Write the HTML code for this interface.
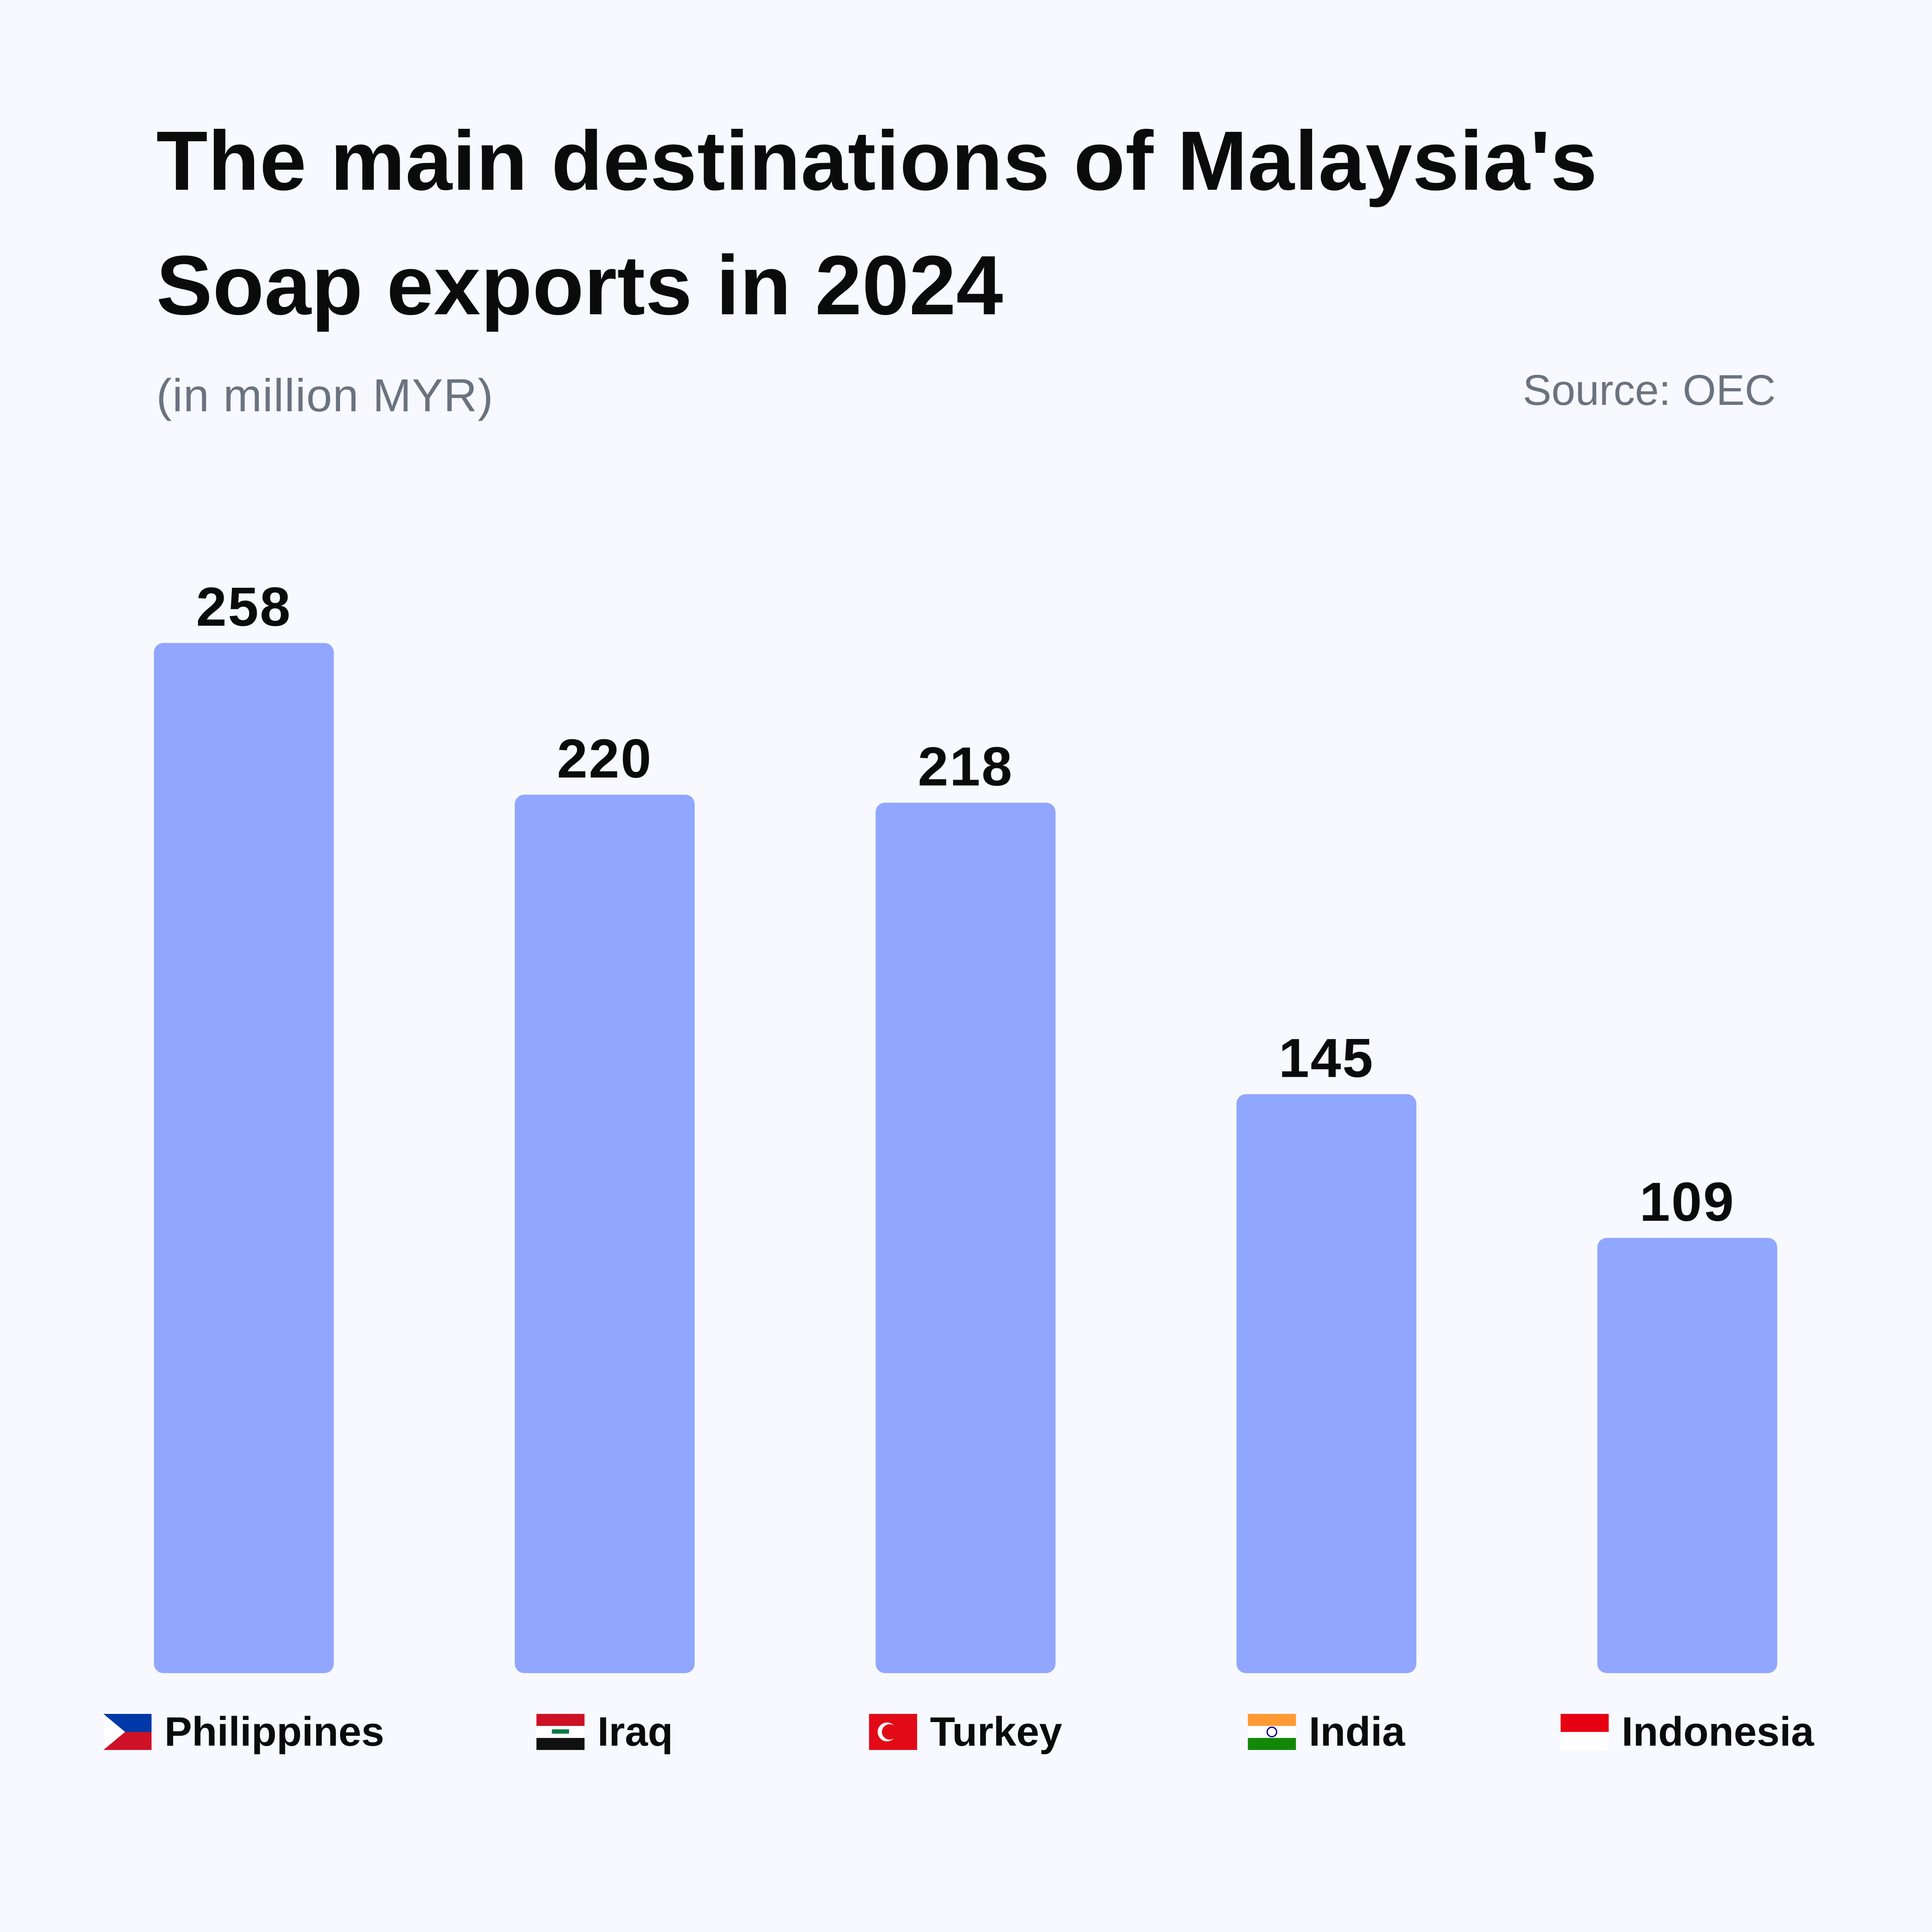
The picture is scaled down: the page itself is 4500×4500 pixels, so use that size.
<!DOCTYPE html>
<html><head><meta charset="utf-8">
<style>
html,body{margin:0;padding:0;}
body{width:4500px;height:4500px;background:#f7f9fe;font-family:"Liberation Sans",sans-serif;position:relative;overflow:hidden;}
.t{position:absolute;left:364px;font-weight:bold;font-size:196px;color:#0b0b0b;letter-spacing:0.6px;white-space:nowrap;}
</style></head>
<body>
<div class="t" style="top:262px;">The main destinations of Malaysia's</div>
<div class="t" style="top:552px;">Soap exports in 2024</div>
<div style="position:absolute;left:364px;top:858px;font-size:108px;letter-spacing:1.5px;color:#6b7280;">(in million MYR)</div>
<div style="position:absolute;right:364px;top:852px;font-size:100px;color:#6b7280;">Source: OEC</div>
<svg id="chart" width="4500" height="4500" style="position:absolute;left:0;top:0;"></svg>
<script>
const categories=["Philippines","Iraq","Turkey","India","Indonesia"];
const values=[258,220,218,145,109];
const labels=["258","220","218","145","109"];
const svg=document.getElementById('chart');
const NS="http://www.w3.org/2000/svg";
const baseY=3897, unit=9.3, bw=419, x0=568, step=840.5;
function xC(i){return x0+i*step;}
function yV(v){return baseY-v*unit;}
function flag(i,x,y){
  const g=document.createElementNS(NS,'g');
  
  
  const w=112,h=84;
  const r=(a,b,c,d,f)=>{const e=document.createElementNS(NS,'rect');e.setAttribute('x',a);e.setAttribute('y',b);e.setAttribute('width',c);e.setAttribute('height',d);e.setAttribute('fill',f);g.appendChild(e);};
  const n=categories[i];
  if(n==="Philippines"){r(x,y,w,h/2,"#0038a8");r(x,y+h/2,w,h/2,"#ce1126");const p=document.createElementNS(NS,'polygon');p.setAttribute('points',`${x},${y} ${x+w*0.45},${y+h/2} ${x},${y+h}`);p.setAttribute('fill','#fff');g.appendChild(p);}
  else if(n==="Iraq"){r(x,y,w,h/3,"#ce1126");r(x,y+h/3,w,h/3,"#fff");r(x,y+2*h/3,w,h/3,"#111");r(x+36,y+36,40,10,"#007a3d");}
  else if(n==="Turkey"){r(x,y,w,h,"#e30a17");const c=document.createElementNS(NS,'circle');c.setAttribute('cx',x+42);c.setAttribute('cy',y+h/2);c.setAttribute('r',22);c.setAttribute('fill','#fff');g.appendChild(c);const c2=document.createElementNS(NS,'circle');c2.setAttribute('cx',x+48);c2.setAttribute('cy',y+h/2);c2.setAttribute('r',18);c2.setAttribute('fill','#e30a17');g.appendChild(c2);}
  else if(n==="India"){r(x,y,w,h/3,"#ff9933");r(x,y+h/3,w,h/3,"#fff");r(x,y+2*h/3,w,h/3,"#138808");const c=document.createElementNS(NS,'circle');c.setAttribute('cx',x+w/2);c.setAttribute('cy',y+h/2);c.setAttribute('r',11);c.setAttribute('fill','none');c.setAttribute('stroke','#000080');c.setAttribute('stroke-width',3);g.appendChild(c);}
  else {r(x,y,w,h/2,"#e70011");r(x,y+h/2,w,h/2,"#fff");}
  svg.appendChild(g);
}
values.forEach((v,i)=>{
  const rc=document.createElementNS(NS,'rect');
  
  
  rc.setAttribute('x',xC(i)-bw/2);rc.setAttribute('y',yV(v));
  rc.setAttribute('width',bw);rc.setAttribute('height',v*unit);
  rc.setAttribute('rx',22);rc.setAttribute('fill','#91a6ff');
  svg.appendChild(rc);
  const t=document.createElementNS(NS,'text');
  
  
  t.setAttribute('x',xC(i));t.setAttribute('y',yV(v)-40);
  t.setAttribute('text-anchor','middle');t.setAttribute('font-size','128');t.setAttribute('font-weight','bold');t.setAttribute('fill','#0b0b0b');
  t.setAttribute('letter-spacing','3');
  t.setAttribute('font-family','Liberation Sans, sans-serif');
  t.textContent=labels[i];svg.appendChild(t);
  const lt=document.createElementNS(NS,'text');
  
  
  lt.setAttribute('font-size','96');lt.setAttribute('font-weight','bold');lt.setAttribute('fill','#0b0b0b');
  lt.setAttribute('font-family','Liberation Sans, sans-serif');
  lt.textContent=categories[i];
  svg.appendChild(lt);
  const tw=lt.getComputedTextLength();
  const total=112+30+tw;
  const sx=xC(i)-total/2;
  lt.setAttribute('x',sx+142);lt.setAttribute('y',4066);
  flag(i,sx,3992);
});
</script>
</body></html>
